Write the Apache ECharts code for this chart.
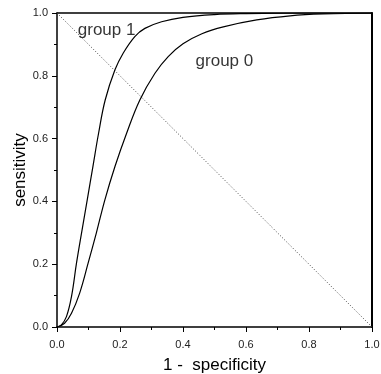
<!DOCTYPE html>
<html>
<head>
<meta charset="utf-8">
<script src="https://cdn.jsdelivr.net/npm/echarts@6/dist/echarts.min.js"></script>
<style>
  html, body { margin: 0; padding: 0; background: #fff; }
  #chart { width: 381px; height: 374px; }
</style>
</head>
<body>
<div id="chart"></div>
<script>
// ROC points: [1 - specificity, sensitivity]
const group1 = [
  [0, 0], [0.014, 0.007], [0.03, 0.033], [0.046, 0.097], [0.062, 0.204],
  [0.078, 0.3], [0.096, 0.405], [0.114, 0.511], [0.132, 0.617], [0.153, 0.723],
  [0.184, 0.819], [0.21, 0.872], [0.247, 0.925], [0.279, 0.951], [0.332, 0.972],
  [0.4, 0.986], [0.5, 0.995], [0.6, 0.998], [0.8, 1], [1, 1]
]
const group0 = [
  [0, 0], [0.024, 0.012], [0.046, 0.044], [0.072, 0.108], [0.099, 0.204],
  [0.125, 0.3], [0.152, 0.405], [0.184, 0.511], [0.221, 0.617], [0.263, 0.723],
  [0.311, 0.808], [0.353, 0.861], [0.4, 0.902], [0.46, 0.934], [0.528, 0.956],
  [0.634, 0.978], [0.74, 0.991], [0.845, 0.997], [1, 1]
]
const diagonal = [[0, 1], [1, 0]]
const groupLabels = [
  { name: 'group 1', value: [0.066, 0.946] },
  { name: 'group 0', value: [0.44, 0.845] }
]
const xTitle = '1 -  specificity'
const yTitle = 'sensitivity'

const font = 'Liberation Sans, Arial, Helvetica, sans-serif'
const chart = echarts.init(document.getElementById('chart'), null, { renderer: 'canvas' })

const mainAxis = (name, gap, labelMargin, moveOverlap) => ({
  type: 'value',
  min: 0,
  max: 1,
  interval: 0.2,
  name: name,
  nameLocation: 'middle',
  nameGap: gap,
  nameMoveOverlap: moveOverlap,
  nameTextStyle: { fontFamily: font, fontSize: 17, color: '#000' },
  axisLine: { show: true, onZero: false, lineStyle: { color: '#000', width: 1.5 } },
  axisTick: { show: true, inside: false, length: 5, lineStyle: { color: '#000', width: 1 } },
  minorTick: { show: true, splitNumber: 2, length: 3, lineStyle: { color: '#000', width: 1 } },
  axisLabel: {
    fontFamily: font, fontSize: 11, color: '#222', margin: labelMargin,
    formatter: v => v.toFixed(1)
  },
  splitLine: { show: false }
})

const frameAxis = (pos, width) => ({
  type: 'value',
  min: 0,
  max: 1,
  position: pos,
  axisLine: { show: true, onZero: false, lineStyle: { color: '#000', width: width } },
  axisTick: { show: false },
  axisLabel: { show: false },
  splitLine: { show: false }
})

chart.setOption({
  animation: false,
  backgroundColor: '#fff',
  grid: { left: 57, right: 9, top: 13, bottom: 47, containLabel: false, outerBoundsMode: 'none' },
  xAxis: [mainAxis(xTitle, 30, 12, true), frameAxis('top', 1.5)],
  yAxis: [mainAxis(yTitle, 28, 9, false), frameAxis('right', 2)],
  series: [
    {
      type: 'line',
      data: diagonal,
      symbol: 'none',
      lineStyle: { color: '#444', width: 1, type: [1, 2] },
      z: 1
    },
    {
      name: 'group 1',
      type: 'line',
      data: group1,
      symbol: 'none',
      smooth: 0.4,
      lineStyle: { color: '#000', width: 1.2 },
      z: 2
    },
    {
      name: 'group 0',
      type: 'line',
      data: group0,
      symbol: 'none',
      smooth: 0.4,
      lineStyle: { color: '#000', width: 1.2 },
      z: 2
    },
    {
      type: 'scatter',
      data: groupLabels,
      symbolSize: 0,
      label: {
        show: true,
        position: 'inside',
        align: 'left',
        verticalAlign: 'middle',
        formatter: p => p.name,
        fontFamily: font,
        fontSize: 17,
        color: '#000'
      },
      z: 3
    }
  ]
})
</script>
</body>
</html>
